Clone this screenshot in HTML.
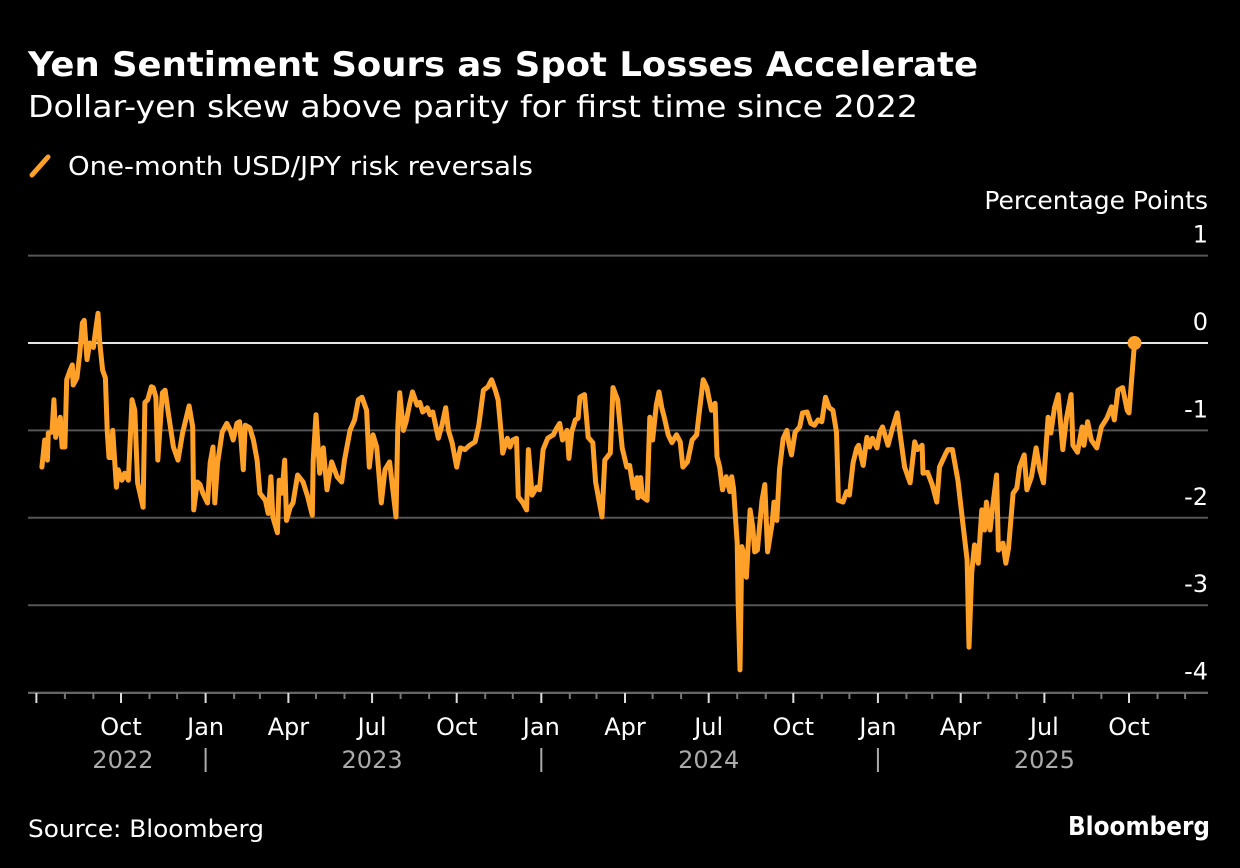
<!DOCTYPE html>
<html><head><meta charset="utf-8">
<style>
html,body{margin:0;padding:0;background:#000;}
svg{display:block;font-family:"DejaVu Sans","Liberation Sans",sans-serif;}
</style></head>
<body>
<svg id="chart" width="1240" height="868" viewBox="0 0 1240 868" xmlns="http://www.w3.org/2000/svg">
<rect width="1240" height="868" fill="#000"/>
<text x="28" y="76" fill="#fff" font-size="34" font-weight="bold" textLength="950" lengthAdjust="spacingAndGlyphs">Yen Sentiment Sours as Spot Losses Accelerate</text>
<text x="28" y="117" fill="#fff" font-size="30" textLength="890" lengthAdjust="spacingAndGlyphs">Dollar-yen skew above parity for first time since 2022</text>
<line x1="32" y1="175" x2="48" y2="157" stroke="#ffa028" stroke-width="5" stroke-linecap="round"/>
<text x="68" y="175" fill="#fff" font-size="26" textLength="465" lengthAdjust="spacingAndGlyphs">One-month USD/JPY risk reversals</text>
<text x="1208" y="209" fill="#fff" font-size="25" text-anchor="end">Percentage Points</text>
<g id="grid"></g>
<g id="xaxis"></g>
<path id="series" fill="none" stroke="#ffa028" stroke-width="5" stroke-linejoin="round" stroke-linecap="round"/>
<circle id="lastdot" r="7" fill="#ffa028"/>
<text x="28" y="837" fill="#fff" font-size="24" textLength="236" lengthAdjust="spacingAndGlyphs">Source: Bloomberg</text>
<text x="1210" y="835" fill="#fff" font-size="26" font-weight="bold" text-anchor="end" textLength="142" lengthAdjust="spacingAndGlyphs">Bloomberg</text>
</svg>
<script>
// days since 2022-07-01
const days = [6,9,12,13,17,19,21,26,28,31,33,36,39,40,44,47,50,52,55,58,62,64,67,69,72,75,77,79,82,83,87,89,93,96,100,104,107,110,116,118,121,125,127,130,132,137,140,143,149,154,159,166,170,171,175,178,181,186,189,192,194,197,202,207,211,214,218,221,225,227,232,236,240,243,249,252,255,257,262,264,267,270,272,276,279,284,290,295,300,301,304,308,312,316,321,327,332,335,341,346,350,354,359,362,366,370,375,379,384,391,393,395,399,402,406,409,414,417,420,425,428,431,437,441,445,448,452,457,461,466,471,477,481,486,491,495,499,502,506,507,512,515,518,522,524,529,533,535,539,544,547,551,556,562,566,569,572,577,579,582,586,589,591,596,600,605,608,615,618,624,627,632,637,642,645,649,653,654,657,659,664,667,670,674,677,680,683,687,691,696,700,703,708,713,718,721,725,729,731,734,738,740,743,746,750,754,756,758,762,763,765,767,770,772,776,779,781,784,789,792,795,800,802,805,808,812,816,818,821,825,830,833,838,842,846,850,854,858,862,866,870,872,877,881,884,888,892,894,899,903,906,909,914,917,920,926,931,936,940,944,950,955,958,963,964,969,974,979,982,988,991,996,1002,1007,1012,1014,1017,1020,1024,1028,1031,1033,1037,1040,1044,1046,1051,1054,1057,1062,1066,1069,1074,1077,1082,1087,1091,1095,1100,1103,1107,1111,1114,1116,1120,1125,1127,1132,1137,1139,1143,1147,1153,1158,1164,1169,1172,1176,1181,1186,1188,1194];
const values = [-1.42,-1.11,-1.34,-1.03,-1.02,-0.65,-1.08,-0.85,-1.19,-1.19,-0.42,-0.33,-0.25,-0.48,-0.40,-0.14,0.23,0.26,-0.19,0.00,-0.05,0.11,0.34,0.00,-0.31,-0.40,-1.00,-1.31,-1.31,-1.00,-1.65,-1.45,-1.57,-1.49,-1.57,-0.65,-0.77,-1.60,-1.88,-0.68,-0.65,-0.50,-0.51,-0.62,-1.34,-0.57,-0.54,-0.77,-1.19,-1.34,-1.03,-0.72,-0.96,-1.91,-1.59,-1.62,-1.72,-1.83,-1.37,-1.19,-1.83,-1.37,-1.02,-0.92,-1.00,-1.11,-0.92,-0.90,-1.45,-0.94,-0.97,-1.11,-1.34,-1.72,-1.80,-1.95,-1.53,-1.99,-2.17,-1.57,-1.72,-1.34,-2.03,-1.88,-1.83,-1.51,-1.59,-1.76,-1.97,-1.34,-0.82,-1.49,-1.20,-1.68,-1.36,-1.53,-1.59,-1.34,-1.00,-0.88,-0.65,-0.62,-0.77,-1.42,-1.05,-1.19,-1.83,-1.45,-1.36,-1.99,-0.96,-0.57,-1.00,-0.90,-0.69,-0.56,-0.71,-0.68,-0.79,-0.74,-0.82,-0.79,-1.09,-0.94,-0.74,-1.00,-1.14,-1.42,-1.20,-1.22,-1.17,-1.13,-0.94,-0.54,-0.50,-0.42,-0.54,-0.65,-1.11,-1.26,-1.09,-1.19,-1.11,-1.09,-1.76,-1.83,-1.91,-1.22,-1.74,-1.65,-1.68,-1.22,-1.09,-1.05,-0.97,-0.92,-1.11,-1.00,-1.32,-1.02,-0.88,-0.86,-0.62,-0.59,-1.08,-1.14,-1.59,-1.99,-1.34,-1.26,-0.51,-0.65,-1.20,-1.42,-1.40,-1.66,-1.54,-1.77,-1.54,-1.76,-1.80,-0.85,-1.11,-0.71,-0.56,-0.74,-0.86,-1.05,-1.14,-1.05,-1.13,-1.42,-1.36,-1.11,-1.05,-0.77,-0.42,-0.51,-0.62,-0.77,-0.69,-1.30,-1.42,-1.68,-1.53,-1.70,-1.53,-1.66,-2.29,-2.94,-3.74,-2.33,-2.45,-2.68,-1.91,-2.11,-2.39,-2.37,-1.80,-1.62,-2.39,-2.06,-1.82,-2.03,-1.45,-1.09,-1.00,-1.14,-1.28,-1.02,-0.96,-0.80,-0.79,-0.92,-0.94,-0.88,-0.90,-0.62,-0.74,-0.77,-1.02,-1.80,-1.82,-1.70,-1.74,-1.37,-1.20,-1.17,-1.40,-1.08,-1.19,-1.09,-1.20,-1.02,-0.96,-1.17,-0.97,-0.80,-1.11,-1.42,-1.60,-1.13,-1.22,-1.17,-1.49,-1.48,-1.62,-1.82,-1.42,-1.28,-1.22,-1.22,-1.57,-2.03,-2.48,-3.48,-2.63,-2.31,-2.52,-1.91,-2.14,-1.82,-2.14,-1.85,-1.51,-2.37,-2.29,-2.52,-2.35,-1.72,-1.66,-1.42,-1.28,-1.68,-1.53,-1.20,-1.45,-1.60,-0.85,-1.03,-0.74,-0.59,-0.96,-1.22,-0.86,-0.59,-1.17,-1.25,-0.96,-1.17,-0.90,-1.11,-1.20,-0.96,-0.86,-0.73,-0.88,-0.54,-0.51,-0.77,-0.80,0.00];
const yTicks = [1,0,-1,-2,-3,-4];
const quarterLabels = ["Oct","Jan","Apr","Jul","Oct","Jan","Apr","Jul","Oct","Jan","Apr","Jul","Oct"];
const yearLabels = ["2022","2023","2024","2025"];

const NS="http://www.w3.org/2000/svg";
function xs(d){return 121+(d-92)*(1008/1096);}
function ys(v){return 343-v*87.4;}
function mk(tag,attrs,parent){const e=document.createElementNS(NS,tag);for(const k in attrs)e.setAttribute(k,attrs[k]);parent.appendChild(e);return e;}
const base=Date.UTC(2022,6,1);
function dayOf(y,m){return Math.round((Date.UTC(y,m,1)-base)/86400000);}

const grid=document.getElementById('grid');
yTicks.forEach(t=>{
  const y=ys(t);
  const l=mk('line',{x1:28,x2:1208,y1:y,y2:y,stroke:t===0?'#e6e6e6':'#555','stroke-width':2},grid);
  
  
  const tx=mk('text',{x:1208,y:y-13,fill:'#fff','font-size':24,'text-anchor':'end'},grid);
  tx.textContent=String(t);
  
  
});

const xa=document.getElementById('xaxis');
const axisLine=mk('line',{x1:28,x2:1208,y1:693,y2:693,stroke:'#666','stroke-width':2},xa);


let qi=0;
for(let i=0;i<42;i++){
  const y=2022+Math.floor((6+i)/12), m=(6+i)%12;
  const x=xs(dayOf(y,m));
  if(x<30||x>1206) continue;
  const q=(m%3===0);
  const tk=mk('line',{x1:x,x2:x,y1:693,y2:q?703:699,stroke:q?'#ddd':'#777','stroke-width':2},xa);
  
  
  if(q && !(y===2022 && m===6) && qi<quarterLabels.length){
    const lb=mk('text',{x:x,y:735,fill:'#fff','font-size':24,'text-anchor':'middle'},xa);
    lb.textContent=quarterLabels[qi++];
    
    
  }
}
const yearCenters=[dayOf(2022,9)+2,dayOf(2023,6),dayOf(2024,6),dayOf(2025,6)];
yearLabels.forEach((yl,i)=>{
  const lb=mk('text',{x:xs(yearCenters[i]),y:768,fill:'#aaa','font-size':24,'text-anchor':'middle'},xa);
  lb.textContent=yl;
  
  
});
[2023,2024,2025].forEach(yy=>{
  const x=xs(dayOf(yy,0));
  const s=mk('line',{x1:x,x2:x,y1:748,y2:772,stroke:'#aaa','stroke-width':2},xa);
  
  
});

let d='';
days.forEach((dd,i)=>{d+=(i?'L':'M')+xs(dd).toFixed(1)+' '+ys(values[i]).toFixed(1);});
document.getElementById('series').setAttribute('d',d);
const dot=document.getElementById('lastdot');
dot.setAttribute('cx',xs(days[days.length-1]));
dot.setAttribute('cy',ys(values[values.length-1]));
</script>
</body></html>
